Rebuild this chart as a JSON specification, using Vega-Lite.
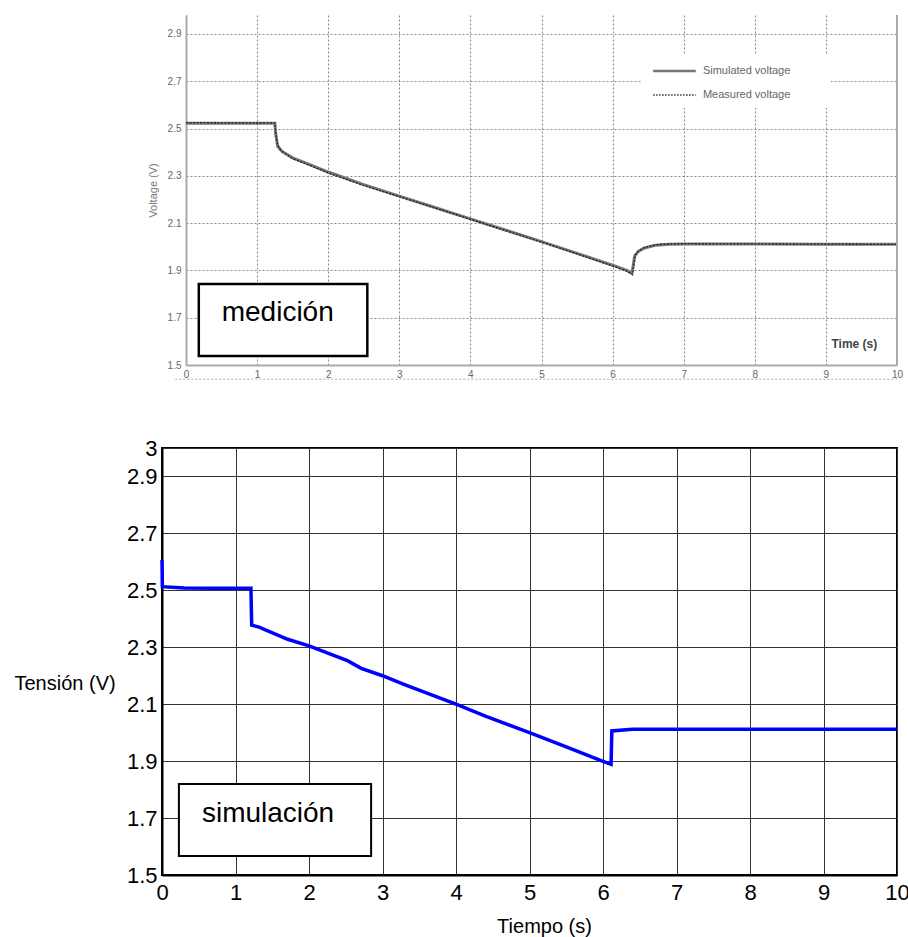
{
  "$schema": "https://vega.github.io/schema/vega-lite/v6.json",
  "background": "white",
  "padding": {"left": 13, "top": 14, "right": 5, "bottom": 5},
  "config": {"font": "Liberation Sans", "view": {"stroke": null}},
  "datasets": {
    "measurement": [
      {"series": "Simulated", "i": 1, "t": 0, "v": 2.522},
      {"series": "Simulated", "i": 2, "t": 1.25, "v": 2.522},
      {"series": "Simulated", "i": 3, "t": 1.26, "v": 2.48},
      {"series": "Simulated", "i": 4, "t": 1.29, "v": 2.425},
      {"series": "Simulated", "i": 5, "t": 1.35, "v": 2.403},
      {"series": "Simulated", "i": 6, "t": 1.5, "v": 2.376},
      {"series": "Simulated", "i": 7, "t": 1.75, "v": 2.346},
      {"series": "Simulated", "i": 8, "t": 2.0, "v": 2.316},
      {"series": "Simulated", "i": 9, "t": 2.5, "v": 2.263},
      {"series": "Simulated", "i": 10, "t": 3.0, "v": 2.214},
      {"series": "Simulated", "i": 11, "t": 3.5, "v": 2.166},
      {"series": "Simulated", "i": 12, "t": 4.0, "v": 2.118},
      {"series": "Simulated", "i": 13, "t": 4.5, "v": 2.07},
      {"series": "Simulated", "i": 14, "t": 5.0, "v": 2.022},
      {"series": "Simulated", "i": 15, "t": 5.5, "v": 1.972},
      {"series": "Simulated", "i": 16, "t": 6.0, "v": 1.922},
      {"series": "Simulated", "i": 17, "t": 6.2, "v": 1.9},
      {"series": "Simulated", "i": 18, "t": 6.27, "v": 1.888},
      {"series": "Simulated", "i": 19, "t": 6.29, "v": 1.92},
      {"series": "Simulated", "i": 20, "t": 6.31, "v": 1.96},
      {"series": "Simulated", "i": 21, "t": 6.36, "v": 1.98},
      {"series": "Simulated", "i": 22, "t": 6.45, "v": 1.995},
      {"series": "Simulated", "i": 23, "t": 6.6, "v": 2.006},
      {"series": "Simulated", "i": 24, "t": 6.8, "v": 2.011},
      {"series": "Simulated", "i": 25, "t": 7.0, "v": 2.012},
      {"series": "Simulated", "i": 26, "t": 8.0, "v": 2.012},
      {"series": "Simulated", "i": 27, "t": 9.0, "v": 2.011},
      {"series": "Simulated", "i": 28, "t": 10.0, "v": 2.011},
      {"series": "Measured", "i": 1, "t": 0, "v": 2.525},
      {"series": "Measured", "i": 2, "t": 0.6, "v": 2.524},
      {"series": "Measured", "i": 3, "t": 1.25, "v": 2.524},
      {"series": "Measured", "i": 4, "t": 1.26, "v": 2.49},
      {"series": "Measured", "i": 5, "t": 1.28, "v": 2.44},
      {"series": "Measured", "i": 6, "t": 1.32, "v": 2.412},
      {"series": "Measured", "i": 7, "t": 1.4, "v": 2.393},
      {"series": "Measured", "i": 8, "t": 1.5, "v": 2.372},
      {"series": "Measured", "i": 9, "t": 1.75, "v": 2.343},
      {"series": "Measured", "i": 10, "t": 2.0, "v": 2.312},
      {"series": "Measured", "i": 11, "t": 2.5, "v": 2.259},
      {"series": "Measured", "i": 12, "t": 3.0, "v": 2.212},
      {"series": "Measured", "i": 13, "t": 3.5, "v": 2.165},
      {"series": "Measured", "i": 14, "t": 4.0, "v": 2.116},
      {"series": "Measured", "i": 15, "t": 4.5, "v": 2.068},
      {"series": "Measured", "i": 16, "t": 5.0, "v": 2.02},
      {"series": "Measured", "i": 17, "t": 5.5, "v": 1.97},
      {"series": "Measured", "i": 18, "t": 6.0, "v": 1.919},
      {"series": "Measured", "i": 19, "t": 6.2, "v": 1.897},
      {"series": "Measured", "i": 20, "t": 6.28, "v": 1.882},
      {"series": "Measured", "i": 21, "t": 6.3, "v": 1.93},
      {"series": "Measured", "i": 22, "t": 6.32, "v": 1.966},
      {"series": "Measured", "i": 23, "t": 6.37, "v": 1.984},
      {"series": "Measured", "i": 24, "t": 6.45, "v": 1.997},
      {"series": "Measured", "i": 25, "t": 6.55, "v": 2.005},
      {"series": "Measured", "i": 26, "t": 6.7, "v": 2.011},
      {"series": "Measured", "i": 27, "t": 7.0, "v": 2.013},
      {"series": "Measured", "i": 28, "t": 8.0, "v": 2.012},
      {"series": "Measured", "i": 29, "t": 9.0, "v": 2.011},
      {"series": "Measured", "i": 30, "t": 10.0, "v": 2.01}
    ],
    "simulation": [
      {"i": 1, "t": 0, "v": 2.607},
      {"i": 2, "t": 0.005, "v": 2.513},
      {"i": 3, "t": 0.3, "v": 2.508},
      {"i": 4, "t": 0.7, "v": 2.507},
      {"i": 5, "t": 1.21, "v": 2.507},
      {"i": 6, "t": 1.22, "v": 2.378},
      {"i": 7, "t": 1.32, "v": 2.371},
      {"i": 8, "t": 1.71, "v": 2.328},
      {"i": 9, "t": 2.0, "v": 2.305},
      {"i": 10, "t": 2.53, "v": 2.252},
      {"i": 11, "t": 2.71, "v": 2.226},
      {"i": 12, "t": 3.0, "v": 2.2},
      {"i": 13, "t": 3.3, "v": 2.169},
      {"i": 14, "t": 4.0, "v": 2.1},
      {"i": 15, "t": 4.4, "v": 2.058},
      {"i": 16, "t": 5.0, "v": 2.0},
      {"i": 17, "t": 5.5, "v": 1.95},
      {"i": 18, "t": 6.0, "v": 1.899},
      {"i": 19, "t": 6.11, "v": 1.889},
      {"i": 20, "t": 6.12, "v": 2.006},
      {"i": 21, "t": 6.4, "v": 2.012},
      {"i": 22, "t": 7.0, "v": 2.012},
      {"i": 23, "t": 10.0, "v": 2.012}
    ]
  },
  "bounds": "flush",
  "spacing": 83,
  "vconcat": [
    {
      "width": 735,
      "height": 350,
      "layer": [
        {
          "data": {"name": "measurement"},
          "transform": [{"filter": "datum.series === 'Simulated'"}],
          "mark": {"type": "line", "color": "#777777", "strokeWidth": 3},
          "encoding": {
            "x": {"field": "t", "type": "quantitative", "scale": {"domain": [0, 10], "range": [24, 735], "nice": false},
              "axis": {"values": [0, 1, 2, 3, 4, 5, 6, 7, 8, 9, 10], "format": "~g", "title": null, "grid": true, "gridColor": "#888888", "gridDash": [2, 2], "gridWidth": 1, "domainColor": "#aaaaaa", "domainWidth": 2, "ticks": false, "labelFontSize": 10, "labelColor": "#666666", "labelPadding": 4, "labelFlush": false, "labelOverlap": false, "labelBound": false}},
            "y": {"field": "v", "type": "quantitative", "scale": {"domain": [1.5, 2.98], "nice": false, "zero": false},
              "axis": {"values": [1.5, 1.7, 1.9, 2.1, 2.3, 2.5, 2.7, 2.9], "format": "~g", "offset": -24, "title": "Voltage (V)", "titleFontSize": 11, "titleFontWeight": "normal", "titleColor": "#777777", "titleAngle": 270, "titleX": -33, "titleY": 175, "titleAlign": "center", "titleBaseline": "middle", "grid": true, "gridColor": "#888888", "gridDash": [2, 2], "gridWidth": 1, "domainColor": "#aaaaaa", "domainWidth": 2, "ticks": false, "labelFontSize": 10, "labelColor": "#666666", "labelPadding": 5, "labelOverlap": false}},
            "order": {"field": "i"}
          }
        },
        {
          "data": {"name": "measurement"},
          "transform": [{"filter": "datum.series === 'Measured'"}],
          "mark": {"type": "line", "color": "#222222", "strokeWidth": 1.3, "strokeDash": [2, 1.5]},
          "encoding": {
            "x": {"field": "t", "type": "quantitative"},
            "y": {"field": "v", "type": "quantitative"},
            "order": {"field": "i"}
          }
        },
        {
          "data": {"values": [{"k": 1}]},
          "mark": {"type": "rule", "color": "#aaaaaa", "strokeWidth": 2},
          "encoding": {"x": {"datum": 10}}
        },
        {
          "data": {"values": [{"k": 1}]},
          "mark": {"type": "rule", "color": "#aaaaaa", "strokeWidth": 1, "strokeDash": [2, 2]},
          "encoding": {"x": {"datum": -0.15}, "x2": {"datum": 10}, "y": {"datum": 1.44}}
        },
        {
          "data": {"values": [{"k": 1}]},
          "mark": {"type": "rect", "fill": "white"},
          "encoding": {"x": {"datum": 6.4}, "x2": {"datum": 9.07}, "y": {"datum": 2.587}, "y2": {"datum": 2.815}}
        },
        {
          "data": {"values": [{"k": 1}]},
          "mark": {"type": "rule", "color": "#777777", "strokeWidth": 2.5},
          "encoding": {"x": {"datum": 6.57}, "x2": {"datum": 7.17}, "y": {"datum": 2.743}}
        },
        {
          "data": {"values": [{"k": 1}]},
          "mark": {"type": "rule", "color": "#333333", "strokeWidth": 1.5, "strokeDash": [1.5, 1.5]},
          "encoding": {"x": {"datum": 6.57}, "x2": {"datum": 7.17}, "y": {"datum": 2.642}}
        },
        {
          "data": {"values": [{"k": 1}]},
          "mark": {"type": "text", "text": "Simulated voltage", "align": "left", "baseline": "middle", "fontSize": 11, "color": "#666666"},
          "encoding": {"x": {"datum": 7.27}, "y": {"datum": 2.743}}
        },
        {
          "data": {"values": [{"k": 1}]},
          "mark": {"type": "text", "text": "Measured voltage", "align": "left", "baseline": "middle", "fontSize": 11, "color": "#666666"},
          "encoding": {"x": {"datum": 7.27}, "y": {"datum": 2.642}}
        },
        {
          "data": {"values": [{"k": 1}]},
          "mark": {"type": "text", "text": "Time (s)", "align": "center", "baseline": "middle", "fontSize": 12, "fontWeight": "bold", "color": "#444444"},
          "encoding": {"x": {"datum": 9.4}, "y": {"datum": 1.589}}
        },
        {
          "data": {"values": [{"k": 1}]},
          "mark": {"type": "rect", "fill": "white", "stroke": "#000000", "strokeWidth": 2.5},
          "encoding": {"x": {"datum": 0.18}, "x2": {"datum": 2.55}, "y": {"datum": 1.538}, "y2": {"datum": 1.843}}
        },
        {
          "data": {"values": [{"k": 1}]},
          "mark": {"type": "text", "text": "medición", "align": "center", "baseline": "alphabetic", "fontSize": 28, "color": "#000000"},
          "encoding": {"x": {"datum": 1.29}, "y": {"datum": 1.686}}
        }
      ]
    },
    {
      "width": 735,
      "height": 427,
      "view": {"stroke": "#000000", "strokeWidth": 2},
      "layer": [
        {
          "data": {"name": "simulation"},
          "mark": {"type": "line", "color": "#0000ff", "strokeWidth": 3.5},
          "encoding": {
            "x": {"field": "t", "type": "quantitative", "scale": {"domain": [0, 10], "nice": false},
              "axis": {"values": [0, 1, 2, 3, 4, 5, 6, 7, 8, 9, 10], "format": "~g", "title": "Tiempo (s)", "titleFontSize": 20, "titleFontWeight": "normal", "titleColor": "#000000", "titleX": 382, "titleY": 51, "titleAlign": "center", "titleBaseline": "middle", "grid": true, "gridColor": "#333333", "gridWidth": 1, "domainColor": "#000000", "domainWidth": 2, "ticks": false, "labelFontSize": 22, "labelColor": "#000000", "labelPadding": 7, "labelFlush": false, "labelOverlap": false, "labelBound": false}},
            "y": {"field": "v", "type": "quantitative", "scale": {"domain": [1.5, 3], "nice": false, "zero": false},
              "axis": {"values": [1.5, 1.7, 1.9, 2.1, 2.3, 2.5, 2.7, 2.9, 3], "format": "~g", "title": "Tensión (V)", "titleFontSize": 20, "titleFontWeight": "normal", "titleColor": "#000000", "titleAngle": 0, "titleX": -148, "titleY": 235, "titleAlign": "left", "titleBaseline": "middle", "grid": true, "gridColor": "#333333", "gridWidth": 1, "domainColor": "#000000", "domainWidth": 2, "ticks": false, "labelFontSize": 22, "labelColor": "#000000", "labelPadding": 5, "labelOverlap": false}},
            "order": {"field": "i"}
          }
        },
        {
          "data": {"values": [{"k": 1}]},
          "mark": {"type": "rect", "fill": "white", "stroke": "#000000", "strokeWidth": 2},
          "encoding": {"x": {"datum": 0.23}, "x2": {"datum": 2.845}, "y": {"datum": 1.567}, "y2": {"datum": 1.82}}
        },
        {
          "data": {"values": [{"k": 1}]},
          "mark": {"type": "text", "text": "simulación", "align": "center", "baseline": "alphabetic", "fontSize": 28, "color": "#000000"},
          "encoding": {"x": {"datum": 1.443}, "y": {"datum": 1.686}}
        }
      ]
    }
  ]
}
